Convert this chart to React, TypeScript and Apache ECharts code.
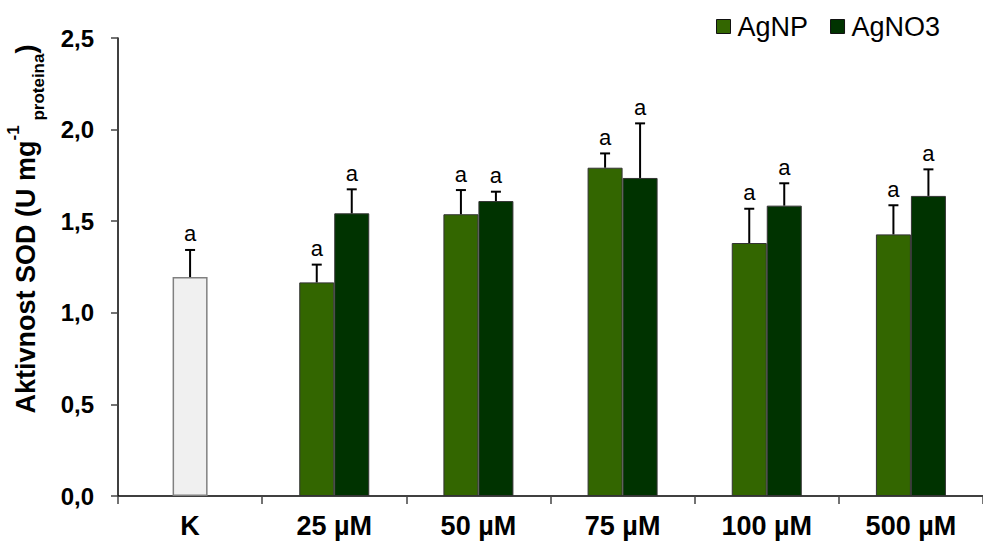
import React, { useEffect, useRef } from "react";
import * as echarts from "echarts";

const categories = ["K", "25 µM", "50 µM", "75 µM", "100 µM", "500 µM"];
const controlMean = [1.195, null, null, null, null, null];
const controlSd = [0.148, null, null, null, null, null];
const controlLetters = ["a", "", "", "", "", ""];
const agnpMean = [null, 1.166, 1.538, 1.792, 1.381, 1.428];
const agnpSd = [null, 0.097, 0.132, 0.078, 0.187, 0.159];
const agnpLetters = ["", "a", "a", "a", "a", "a"];
const agno3Mean = [null, 1.543, 1.61, 1.736, 1.585, 1.638];
const agno3Sd = [null, 0.131, 0.051, 0.298, 0.122, 0.145];
const agno3Letters = ["", "a", "a", "a", "a", "a"];

const FONT = '"Liberation Sans", Arial, sans-serif';
const BAR_W = 35;

function errData(mean: (number | null)[], sd: (number | null)[]) {
  const out: number[][] = [];
  mean.forEach((m, i) => {
    if (m != null && sd[i] != null) out.push([i, m, m + (sd[i] as number)]);
  });
  return out;
}

function errSeries(mean: (number | null)[], sd: (number | null)[], letters: string[], offset: number) {
  const data = errData(mean, sd);
  return {
    type: "custom",
    xAxisIndex: 0,
    yAxisIndex: 0,
    z: 5,
    data,
    renderItem: (params: any, api: any) => {
      const cat = api.value(0);
      const m = api.value(1);
      const hi = api.value(2);
      const base = api.coord([cat, m]);
      const top = api.coord([cat, hi]);
      const x = base[0] + offset;
      const letter = letters[cat];
      return {
        type: "group",
        children: [
          { type: "line", shape: { x1: x, y1: base[1], x2: x, y2: top[1] }, style: { stroke: "#000", lineWidth: 2 } },
          { type: "line", shape: { x1: x - 5, y1: top[1], x2: x + 5, y2: top[1] }, style: { stroke: "#000", lineWidth: 2 } },
          {
            type: "text",
            x,
            y: top[1] - 5,
            style: { text: letter, fill: "#000", font: `22px ${FONT}`, textAlign: "center", textVerticalAlign: "bottom" },
          },
        ],
      };
    },
  };
}

export default function App() {
  const ref = useRef<HTMLDivElement>(null);
  useEffect(() => {
    if (!ref.current) return;
    const chart = echarts.init(ref.current, undefined, { renderer: "svg" });
    const toData = (arr: (number | null)[]) => arr.map((v) => (v == null ? "-" : v));
    chart.setOption({
      animation: false,
      backgroundColor: "#fff",
      textStyle: { fontFamily: FONT },
      legend: {
        data: ["AgNP", "AgNO3"],
        left: 711,
        top: 8,
        itemWidth: 14,
        itemHeight: 14,
        itemGap: 22,
        icon: "rect",
        itemStyle: { borderColor: "#111", borderWidth: 1 },
        textStyle: { fontSize: 27, color: "#000", fontFamily: FONT, padding: [0, 0, 0, 2] },
      },
      grid: { left: 118, top: 38, width: 876, height: 458 },
      xAxis: [
        {
          type: "category",
          data: categories,
          axisLine: { lineStyle: { color: "#000", width: 1.5 } },
          axisTick: { show: true, length: 8, lineStyle: { color: "#444", width: 1.5 } },
          axisLabel: { color: "#000", fontSize: 27, fontWeight: "bold", margin: 16, fontFamily: FONT },
        },
        { type: "category", data: categories, show: false },
      ],
      yAxis: {
        type: "value",
        min: 0,
        max: 2.5,
        interval: 0.5,
        splitLine: { show: false },
        axisLine: { show: true, lineStyle: { color: "#000", width: 1.5 } },
        axisTick: { show: true, length: 7, lineStyle: { color: "#444", width: 1.5 } },
        axisLabel: {
          color: "#000",
          fontSize: 24,
          fontWeight: "bold",
          margin: 24,
          fontFamily: FONT,
          formatter: (v: number) => v.toFixed(1).replace(".", ","),
        },
      },
      graphic: [
        {
          type: "text",
          x: 26,
          y: 229,
          rotation: Math.PI / 2,
          style: {
            text: "{b|Aktivnost SOD (U mg}{sup|-1}{sub| proteina}{b|)}",
            textAlign: "center",
            textVerticalAlign: "middle",
            fill: "#000",
            rich: {
              b: { fontSize: 27, fontWeight: "bold", fontFamily: FONT, lineHeight: 42, fill: "#000" },
              sup: { fontSize: 17, fontWeight: "bold", fontFamily: FONT, lineHeight: 30, verticalAlign: "top", fill: "#000" },
              sub: { fontSize: 17, fontWeight: "bold", fontFamily: FONT, lineHeight: 22, verticalAlign: "bottom", fill: "#000" },
            },
          },
        },
      ],
      series: [
        {
          name: "K",
          type: "bar",
          xAxisIndex: 1,
          barWidth: BAR_W,
          data: toData(controlMean),
          itemStyle: { color: "#f0f0f0", borderColor: "#808080", borderWidth: 1.5 },
        },
        {
          name: "AgNP",
          type: "bar",
          xAxisIndex: 0,
          barWidth: BAR_W,
          barGap: "0%",
          data: toData(agnpMean),
          itemStyle: { color: "#336600", borderColor: "#333", borderWidth: 1 },
        },
        {
          name: "AgNO3",
          type: "bar",
          xAxisIndex: 0,
          barWidth: BAR_W,
          barGap: "0%",
          data: toData(agno3Mean),
          itemStyle: { color: "#003300", borderColor: "#333", borderWidth: 1 },
        },
        errSeries(controlMean, controlSd, controlLetters, 0),
        errSeries(agnpMean, agnpSd, agnpLetters, -BAR_W / 2),
        errSeries(agno3Mean, agno3Sd, agno3Letters, BAR_W / 2),
      ],
    });
    return () => chart.dispose();
  }, []);
  return <div ref={ref} style={{ position: "fixed", left: 0, top: 0, width: 983, height: 543 }} />;
}
